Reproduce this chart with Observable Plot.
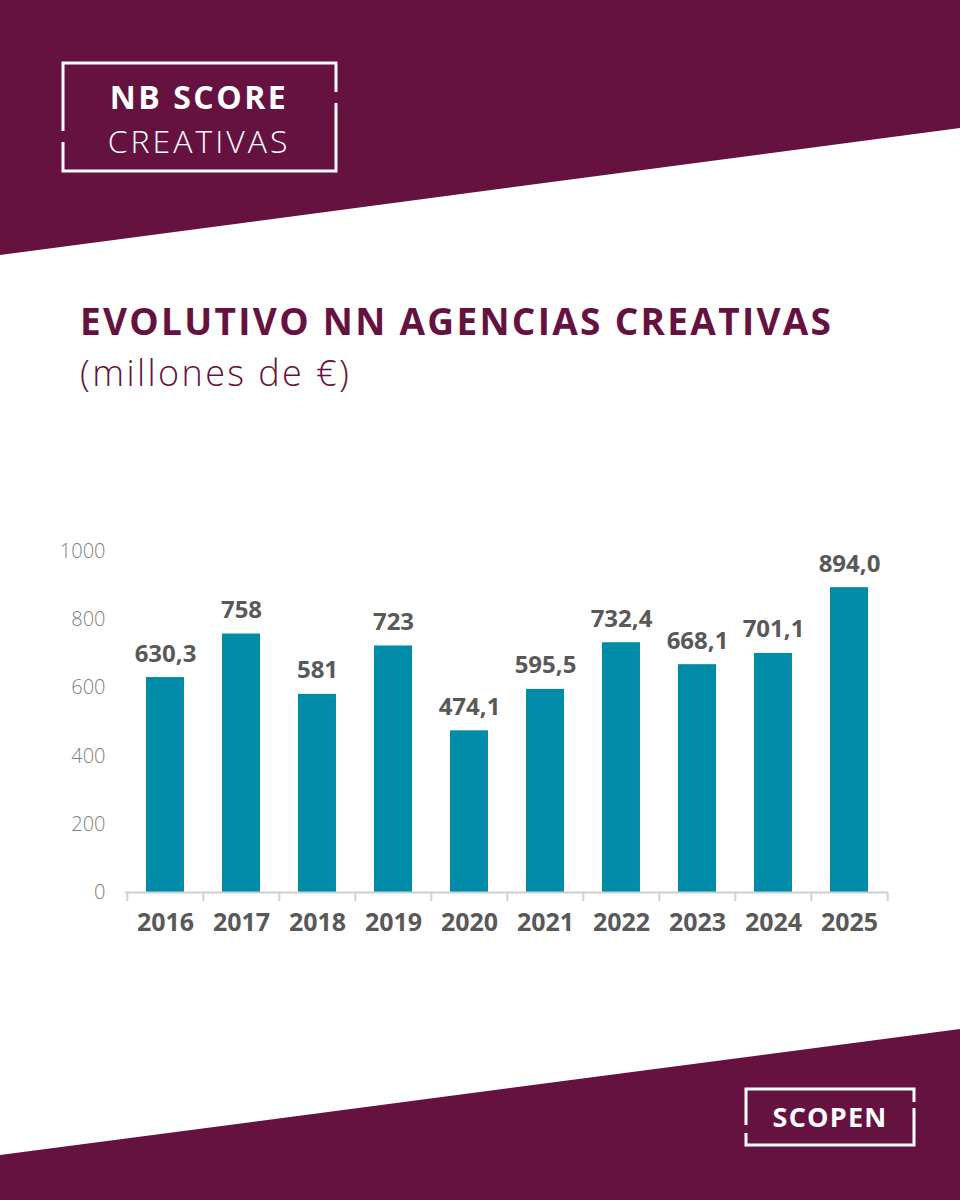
<!DOCTYPE html>
<html>
<head>
<meta charset="utf-8">
<script src="https://cdn.jsdelivr.net/npm/d3@7"></script>
<script src="https://cdn.jsdelivr.net/npm/@observablehq/plot@0.6"></script>
<style>
  html, body { margin: 0; padding: 0; background: #fff; }
  #page { position: relative; width: 960px; height: 1200px; overflow: hidden; background: #fff; font-family: "Open Sans", Lato, sans-serif; }
  #deco { position: absolute; left: 0; top: 0; }
  .title { position: absolute; left: 80px; top: 295px; font-size: 37px; font-weight: 700; color: #661241; letter-spacing: 2.3px; white-space: nowrap; }
  .subtitle { position: absolute; left: 80px; top: 348px; font-size: 36px; font-weight: 300; color: #661241; letter-spacing: 2.4px; white-space: nowrap; }
  #chart { position: absolute; left: 0; top: 520px; }
</style>
</head>
<body>
<div id="page">
  <svg id="deco" width="960" height="1200" viewBox="0 0 960 1200">
    <polygon points="0,0 960,0 960,128 0,255" fill="#661241"/>
    <polygon points="0,1155 960,1029 960,1200 0,1200" fill="#661241"/>
    <!-- NB SCORE logo box -->
    <g fill="none" stroke="#fff" stroke-width="3">
      <polyline points="63,131 63,63 336,63 336,92"/>
      <polyline points="336,103 336,171 63,171 63,142"/>
    </g>
    <text x="199" y="109" text-anchor="middle" fill="#fff" font-family="Open Sans, sans-serif" font-size="32" font-weight="700" letter-spacing="2.5">NB SCORE</text>
    <text x="199" y="153" text-anchor="middle" fill="#fff" font-family="Open Sans, sans-serif" font-size="32" font-weight="300" letter-spacing="3">CREATIVAS</text>
    <!-- SCOPEN logo box -->
    <g fill="none" stroke="#fff" stroke-width="3">
      <polyline points="746,1125 746,1089 914,1089 914,1102"/>
      <polyline points="914,1108 914,1145 746,1145 746,1133"/>
    </g>
    <text x="830" y="1127" text-anchor="middle" fill="#fff" font-family="Open Sans, sans-serif" font-weight="700" font-size="27" letter-spacing="1.2">SCOPEN</text>
  </svg>
  <div class="title">EVOLUTIVO NN AGENCIAS CREATIVAS</div>
  <div class="subtitle">(millones de €)</div>
  <div id="chart"></div>
</div>
<script>
const years = ["2016","2017","2018","2019","2020","2021","2022","2023","2024","2025"];
const values = [630.3, 758, 581, 723, 474.1, 595.5, 732.4, 668.1, 701.1, 894.0];
const valueLabels = ["630,3","758","581","723","474,1","595,5","732,4","668,1","701,1","894,0"];
const yTicks = [0, 200, 400, 600, 800, 1000];

const data = years.map((y, i) => ({year: y, value: values[i], label: valueLabels[i]}));

const W = 960, H = 440, mL = 125, mR = 72, mT = 31, mB = 68;
const step = (W - mL - mR) / years.length;

const chart = Plot.plot({
  width: W,
  height: H,
  marginLeft: mL,
  marginRight: mR,
  marginTop: mT,
  marginBottom: mB,
  style: {fontFamily: "Open Sans, Lato, sans-serif", background: "transparent", overflow: "visible", color: "#808080"},
  x: {domain: years, paddingInner: 0.5, paddingOuter: 0.25},
  y: {domain: [0, 1000]},
  marks: [
    Plot.axisY({ticks: yTicks, tickSize: 0, tickPadding: 20, fontSize: 20, fill: "#808080", fontWeight: 300, label: null, tickFormat: d => String(d)}),
    Plot.axisX({tickSize: 0, tickPadding: 21, fontSize: 25, fontWeight: 700, fill: "#595959", label: null}),
    Plot.barY(data, {x: "year", y: "value", fill: "#008ba8"}),
    Plot.ruleY([0], {stroke: "#d0d0d0", strokeWidth: 2}),
    Plot.ruleX(years, {x: d => d, y1: 0, y2: 0, insetBottom: -9, dx: -step / 2, stroke: "#d0d0d0", strokeWidth: 2}),
    Plot.ruleX([years[years.length - 1]], {x: d => d, y1: 0, y2: 0, insetBottom: -9, dx: step / 2, stroke: "#d0d0d0", strokeWidth: 2}),
    Plot.text(data, {x: "year", y: "value", text: "label", dy: -16, lineAnchor: "bottom", fontSize: 24, fontWeight: 700, fill: "#595959"})
  ]
});
document.getElementById("chart").appendChild(chart);
</script>
</body>
</html>
